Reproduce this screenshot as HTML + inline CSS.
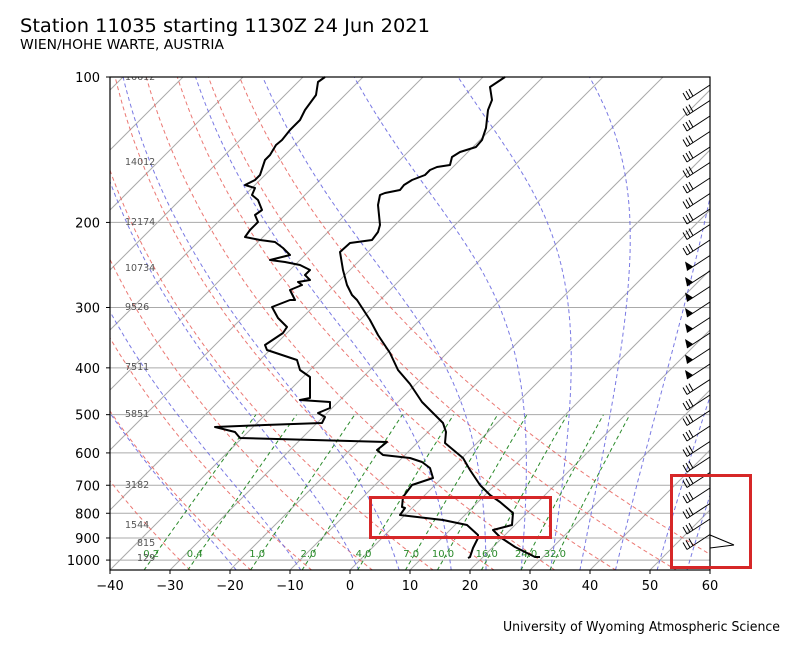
<!DOCTYPE html>
<html><head><meta charset="utf-8"><style>
html,body{margin:0;padding:0;background:#fff;}
svg{display:block;font-family:"DejaVu Sans","Liberation Sans",sans-serif;}
</style></head><body>
<svg id="s" width="794" height="656" xmlns="http://www.w3.org/2000/svg">
<defs><clipPath id="c"><rect x="110" y="77" width="600" height="493"/></clipPath></defs>
<rect width="794" height="656" fill="#fff"/>
<g id="bg" clip-path="url(#c)"></g>
<g id="fg"></g>
<text x="20" y="32" font-size="19" textLength="410" lengthAdjust="spacingAndGlyphs">Station 11035 starting 1130Z 24 Jun 2021</text>
<text x="20" y="49" font-size="13" textLength="204" lengthAdjust="spacingAndGlyphs">WIEN/HOHE WARTE, AUSTRIA</text>
<text x="780" y="631" font-size="13" text-anchor="end" textLength="277" lengthAdjust="spacingAndGlyphs">University of Wyoming Atmospheric Science</text>
</svg>
<script>
var NS="http://www.w3.org/2000/svg";
var bg=document.getElementById('bg'),fg=document.getElementById('fg');
function Y(p){return 77+209.8*Math.log(p/100);}
function X(T,p){return 110+6*(T+40)+(570-Y(p));}
function el(par,tag,a,txt){var e=document.createElementNS(NS,tag);for(var k in a)e.setAttribute(k,a[k]);if(txt!=null)e.textContent=txt;par.appendChild(e);return e;}
function poly(par,pts,a){a.points=pts.map(function(q){return q[0].toFixed(1)+','+q[1].toFixed(1)}).join(' ');a.fill='none';el(par,'polyline',a);}
[100,200,300,400,500,600,700,800,900,1000].forEach(function(p){el(bg,'line',{x1:110,x2:710,y1:Y(p),y2:Y(p),stroke:'#aaa','stroke-width':1});});
for(var T=-160;T<=60;T+=10){el(bg,'line',{x1:X(T,1050),y1:Y(1050),x2:X(T,1050)+600,y2:Y(1050)-600,stroke:'#aaa','stroke-width':1});}
var ps=[];for(var p=1050;p>=100;p-=5)ps.push(p);
for(var th=-30;th<=60;th+=10){var pts=ps.map(function(p){var t=(th+273.15)*Math.pow(p/1000,0.2857)-273.15;return [X(t,p),Y(p)];});poly(bg,pts,{stroke:'#e8605a','stroke-width':1,'stroke-dasharray':'4,3',opacity:0.85});}
function es(t){return 6.112*Math.exp(17.67*t/(t+243.5));}
function dTdp(T,p){var Rd=287.04,Cp=1005.7,Lv=2.501e6,eps=0.622;var rs=eps*es(T-273.15)/(p-es(T-273.15));return (1/p)*(Rd*T+Lv*rs)/(Cp+Lv*Lv*rs*eps/(Rd*T*T));}
[-22,-11,-1,6,15,21,27,32,37,43,50,55].forEach(function(t0){
 var up=[],T=t0+273.15,p=1000;up.push([X(t0,p),Y(p)]);
 while(p>100){var h=-2;T+=dTdp(T,p)*h;p+=h;up.push([X(T-273.15,p),Y(p)]);}
 var dn=[];T=t0+273.15;p=1000;while(p<1050){var h2=2;T+=dTdp(T,p)*h2;p+=h2;dn.push([X(T-273.15,p),Y(p)]);}
 poly(bg,dn.reverse().concat(up),{stroke:'#6a6ae0','stroke-width':1,'stroke-dasharray':'4,3',opacity:0.9});});
function tdw(w,p){var e=w*p/(622+w);var l=Math.log(e/6.112);return 243.5*l/(17.67-l);}
[0.2,0.4,1,2,4,7,10,16,24,32].forEach(function(w){var pts=[];for(var p=1050;p>=500;p-=10)pts.push([X(tdw(w,p),p),Y(p)]);poly(bg,pts,{stroke:'#2a8a2a','stroke-width':1,'stroke-dasharray':'4,3'});
 el(bg,'text',{x:X(tdw(w,1000),1000),y:557,'font-size':10,fill:'#2a8a2a','text-anchor':'middle'},w.toFixed(1));});
[[16612,77],[14012,162],[12174,222],[10734,268],[9526,307],[7511,367],[5851,414],[3182,485],[1544,525],[815,543],[129,558]].forEach(function(h){el(bg,'text',{x:h[0]<1000?137:125,y:h[1]+3,'font-size':9.5,fill:'#555'},h[0]);});
var Tp=[[505,77],[490,87],[492,100],[488,110],[486,128],[482,140],[476,147],[460,152],[452,157],[450,165],[437,167],[430,170],[425,175],[412,180],[404,185],[400,190],[385,193],[380,195],[378,205],[380,225],[378,232],[372,240],[350,243],[340,252],[343,270],[347,285],[352,295],[357,300],[370,320],[378,335],[390,353],[398,370],[410,384],[422,402],[443,423],[446,432],[445,443],[463,458],[470,470],[480,485],[490,495],[500,502],[513,513],[512,525],[493,530],[500,537],[515,547],[535,557],[540,557]];
var Dp=[[325,77],[318,82],[316,95],[305,110],[300,120],[290,130],[282,140],[276,145],[270,155],[265,160],[260,175],[255,180],[245,185],[255,188],[252,195],[258,200],[262,210],[255,215],[258,222],[250,230],[245,237],[260,240],[275,242],[283,248],[290,255],[270,260],[285,262],[300,265],[310,270],[305,275],[310,280],[298,282],[302,285],[290,290],[295,300],[290,300],[272,307],[278,318],[287,327],[283,333],[265,345],[267,350],[297,360],[300,370],[310,377],[310,385],[310,398],[300,400],[330,402],[330,408],[318,413],[325,417],[322,423],[265,425],[215,427],[235,432],[240,438],[387,442],[377,450],[383,455],[410,458],[422,462],[430,468],[433,478],[412,485],[403,497],[402,507],[405,508],[400,515],[443,520],[467,525],[478,535],[478,538],[473,548],[470,557],[468,558]];
poly(fg,Tp,{stroke:'#000','stroke-width':2,'stroke-linejoin':'round'});
poly(fg,Dp,{stroke:'#000','stroke-width':2,'stroke-linejoin':'round'});
for(var y=85;y<=540;y+=15.5){var ex=687,ey=y+15;el(fg,'line',{x1:710,y1:y,x2:ex,y2:ey,stroke:'#000','stroke-width':1});
 if(y>240&&y<370){el(fg,'polygon',{points:ex+','+ey+' '+(ex+6)+','+(ey-4)+' '+(ex-2)+','+(ey-9),fill:'#000'});}
 else{for(var k=0;k<3;k++){var f=k*0.13;var px=ex+23*f,py=ey-15*f;el(fg,'line',{x1:px,y1:py,x2:px-4,y2:py-7,stroke:'#000','stroke-width':1});}}}
el(fg,'line',{x1:710,y1:535,x2:734,y2:545,stroke:'#000','stroke-width':1});
el(fg,'line',{x1:710,y1:548,x2:734,y2:545,stroke:'#000','stroke-width':1});
el(fg,'rect',{x:110,y:77,width:600,height:493,fill:'none',stroke:'#000','stroke-width':1.2});
[100,200,300,400,500,600,700,800,900,1000].forEach(function(p){var y=Y(p);el(fg,'line',{x1:106,x2:110,y1:y,y2:y,stroke:'#000'});el(fg,'text',{x:100,y:y+5,'font-size':13,'text-anchor':'end'},p);});
for(var t=-40;t<=60;t+=10){var x=110+6*(t+40);el(fg,'line',{x1:x,x2:x,y1:570,y2:574,stroke:'#000'});el(fg,'text',{x:x,y:590,'font-size':13,'text-anchor':'middle'},t<0?'\u2212'+(-t):t);}
el(fg,'rect',{x:370.5,y:497.5,width:180,height:40,fill:'none',stroke:'#d62728','stroke-width':3});
el(fg,'rect',{x:671.5,y:475.5,width:79,height:92,fill:'none',stroke:'#d62728','stroke-width':3});
</script>
</body></html>
